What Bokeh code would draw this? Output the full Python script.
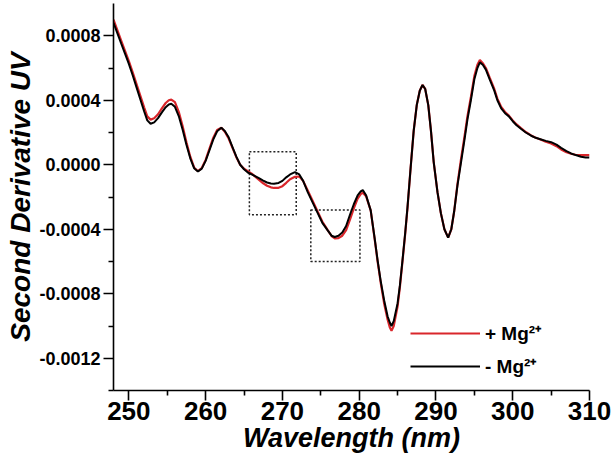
from bokeh.plotting import figure
from bokeh.models import Range1d, FixedTicker, PrintfTickFormatter, Legend, LegendItem
from bokeh.embed import file_html
from bokeh.resources import INLINE

# ---- data ----
wavelength = [248.0, 248.5, 249.0, 249.5, 250.0, 250.5, 251.0, 251.5, 252.0, 252.4,
              252.83, 253.3, 253.8, 254.3, 254.8, 255.2, 255.53, 256.0, 256.5, 257.0,
              257.5, 258.0, 258.5, 259.0, 259.5, 260.0, 260.5, 261.0, 261.5, 262.05,
              262.5, 263.0, 263.5, 264.0, 264.5, 265.0, 265.5, 266.0, 266.5, 267.0,
              267.5, 268.0, 268.5, 268.9, 269.5, 270.0, 270.5, 271.0, 271.64, 272.2,
              272.7, 273.3, 273.9, 274.6, 275.2, 275.9, 276.4, 276.82, 277.3, 277.8,
              278.3, 278.8, 279.3, 279.8, 280.2, 280.47, 280.9, 281.5, 282.0, 282.4,
              282.8, 283.25, 283.7, 284.0, 284.21, 284.5, 285.0, 285.3, 285.64, 286.0,
              286.3, 286.7, 287.1, 287.5, 287.9, 288.25, 288.6, 289.0, 289.35, 289.7,
              290.2, 290.64, 291.1, 291.59, 292.0, 292.37, 292.8, 293.25, 293.7, 294.1,
              294.55, 295.0, 295.4, 295.72, 296.1, 296.5, 297.0, 297.6, 298.0, 298.5,
              299.0, 299.5, 300.0, 300.5, 301.07, 301.7, 302.4, 303.0, 303.7, 304.3,
              305.0, 305.7, 306.3, 307.0, 307.6, 308.2, 308.9, 309.5, 310.0]

minus_mg = [0.00088, 0.000816, 0.000752, 0.000689, 0.000625, 0.000555, 0.00048, 0.000405, 0.00033, 0.000275,
            0.000254, 0.000263, 0.000289, 0.000325, 0.000357, 0.000374, 0.000378, 0.000359, 0.000302, 0.000218,
            0.000124, 0.00004, -0.000021, -0.0000415, -0.000024, 0.000024, 0.00009, 0.000157, 0.000208, 0.000229,
            0.00021, 0.00017, 0.00011, 0.00005, 0.0, -0.000028, -0.000048, -0.00006, -0.000072, -0.000085,
            -0.000098, -0.00011, -0.000116, -0.000118, -0.000113, -0.0001, -0.000078, -0.00006, -0.000046, -0.00006,
            -0.0001, -0.00017, -0.00023, -0.0003, -0.00036, -0.000407, -0.00044, -0.000448, -0.00044, -0.00042,
            -0.00038, -0.00031, -0.000245, -0.00019, -0.000165, -0.000157, -0.00019, -0.000283, -0.00045, -0.000593,
            -0.00072, -0.00084, -0.00094, -0.00098, -0.001, -0.00097, -0.00086, -0.00075, -0.000593, -0.00042,
            -0.00026, -0.00002, 0.00021, 0.00037, 0.00046, 0.000495, 0.00047, 0.00037, 0.00021, 0.00002,
            -0.00017, -0.0003, -0.0004, -0.000452, -0.0004, -0.00029, -0.00013, 0.00001, 0.00015, 0.00028,
            0.0004, 0.00053, 0.0006, 0.000635, 0.00062, 0.00059, 0.00053, 0.00046, 0.0004, 0.00035,
            0.00032, 0.0003, 0.00027, 0.000245, 0.000223, 0.0002, 0.00018, 0.000167, 0.000157, 0.000148,
            0.00014, 0.000125, 0.000105, 0.000085, 0.00007, 0.00006, 0.00005, 0.000045, 0.000045]

plus_mg = [0.0009, 0.000835, 0.00077, 0.000706, 0.000642, 0.000573, 0.0005, 0.000427, 0.000355, 0.0003,
           0.00028, 0.000288, 0.000313, 0.00035, 0.000383, 0.0004, 0.000404, 0.000388, 0.000328, 0.00024,
           0.00014, 0.00005, -0.000017, -0.00004, -0.00002, 0.00003, 0.0001, 0.000168, 0.000215, 0.000229,
           0.000205, 0.000163, 0.000105, 0.000047, 0.0, -0.000025, -0.00004, -0.000055, -0.000075, -0.000095,
           -0.000115, -0.00013, -0.00014, -0.000144, -0.000143, -0.000133, -0.000112, -0.00009, -0.000075, -0.000073,
           -0.0001, -0.00016, -0.00022, -0.000292, -0.000352, -0.000405, -0.000442, -0.000456, -0.000455, -0.00044,
           -0.000405, -0.00034, -0.00027, -0.00021, -0.000182, -0.000174, -0.000195, -0.000283, -0.000455, -0.0006,
           -0.00073, -0.00086, -0.00096, -0.00101, -0.00103, -0.001, -0.00088, -0.00076, -0.0006, -0.000425,
           -0.000265, -0.00002, 0.00021, 0.00037, 0.00046, 0.000495, 0.00047, 0.00037, 0.00021, 0.00002,
           -0.00017, -0.0003, -0.0004, -0.000452, -0.0004, -0.00029, -0.00012, 0.00003, 0.00017, 0.0003,
           0.00042, 0.00055, 0.00062, 0.00065, 0.00063, 0.0006, 0.00054, 0.00047, 0.00041, 0.000358,
           0.000327, 0.000305, 0.000275, 0.00025, 0.000227, 0.000203, 0.000182, 0.000167, 0.000155, 0.000143,
           0.000132, 0.000115, 0.000095, 0.000078, 0.000068, 0.000062, 0.00006, 0.00006, 0.00006]

# dotted highlight boxes (data units)
box_left = [265.7, 273.7]
box_right = [271.8, 280.1]
box_top = [0.00008, -0.00028]
box_bottom = [-0.00031, -0.0006]

x_major = [250, 260, 270, 280, 290, 300, 310]
x_minor = [255, 265, 275, 285, 295, 305]
y_major = [-0.0012, -0.0008, -0.0004, 0.0, 0.0004, 0.0008]
y_minor = [-0.0014, -0.001, -0.0006, -0.0002, 0.0002, 0.0006]

legend_labels = ["+ Mg\u00b2\u207a", "- Mg\u00b2\u207a"]

RED = "#d9262b"
FONT = "Liberation Sans"

p = figure(width=613, height=467, output_backend="svg", toolbar_location=None,
           x_range=Range1d(248.0, 310.0), y_range=Range1d(-0.0014, 0.001),
           min_border_left=113, min_border_right=24, min_border_top=3, min_border_bottom=77)
p.outline_line_color = None
p.xgrid.visible = False
p.ygrid.visible = False
p.background_fill_color = "white"

p.quad(left=box_left, right=box_right, top=box_top, bottom=box_bottom,
       fill_color=None, line_color="#222222", line_dash="2 2", line_width=1.5)

r_red = p.line(wavelength, plus_mg, line_color=RED, line_width=2.2)
r_black = p.line(wavelength, minus_mg, line_color="black", line_width=2)

legend = Legend(items=[LegendItem(label=legend_labels[0], renderers=[r_red]),
                       LegendItem(label=legend_labels[1], renderers=[r_black])],
                location=(297, 11), padding=0, spacing=7, glyph_width=70, glyph_height=20,
                label_height=20, label_standoff=5, border_line_color=None,
                background_fill_alpha=0, label_text_font=FONT, label_text_font_style="bold",
                label_text_font_size="19px", label_text_color="black")
p.add_layout(legend)

xa = p.xaxis[0]
ya = p.yaxis[0]
xa.ticker = FixedTicker(ticks=x_major, minor_ticks=x_minor)
ya.ticker = FixedTicker(ticks=y_major, minor_ticks=y_minor)
ya.formatter = PrintfTickFormatter(format="%.4f")

for ax in (xa, ya):
    ax.axis_line_width = 1.6
    ax.axis_line_color = "black"
    ax.major_tick_line_width = 1.6
    ax.minor_tick_line_width = 1.6
    ax.major_tick_line_color = "black"
    ax.minor_tick_line_color = "black"
    ax.major_tick_out = 10
    ax.major_tick_in = 0
    ax.minor_tick_out = 5
    ax.minor_tick_in = 0
    ax.major_label_text_font = FONT
    ax.major_label_text_font_style = "bold"
    ax.major_label_text_color = "black"
    ax.axis_label_text_font = FONT
    ax.axis_label_text_font_style = "bold italic"
    ax.axis_label_text_color = "black"

xa.major_label_text_font_size = "26px"
xa.major_label_standoff = 1
xa.axis_label = "Wavelength (nm)"
xa.axis_label_text_font_size = "27px"
xa.axis_label_standoff = 0

ya.major_label_text_font_size = "18px"
ya.major_label_standoff = 3
ya.axis_label = "Second Derivative UV"
ya.axis_label_text_font_size = "28px"
ya.axis_label_standoff = 0

open("out.html", "w").write(file_html(p, INLINE))
